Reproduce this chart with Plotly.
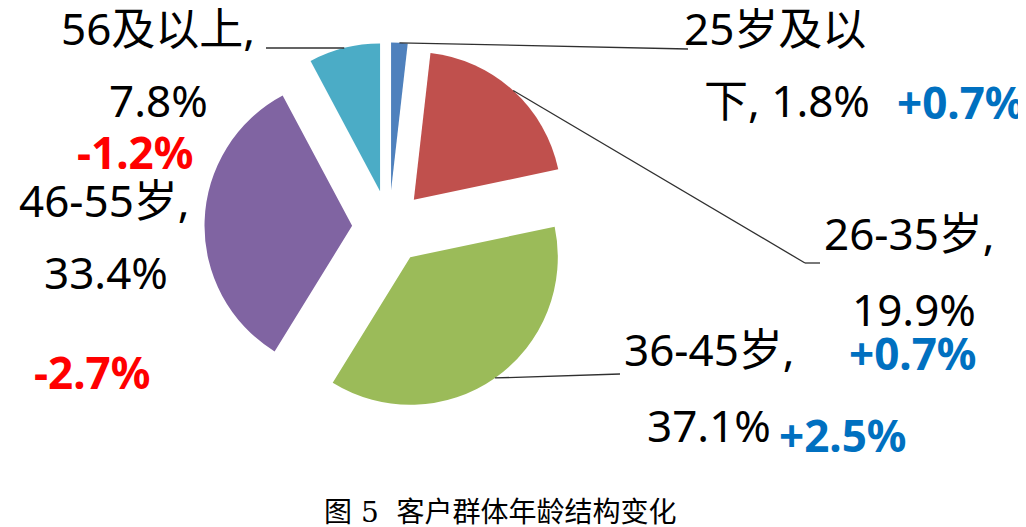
import math
import plotly.graph_objects as go

# data
groups = ["25岁及以下", "26-35岁", "36-45岁", "46-55岁", "56及以上"]
shares = [1.8, 19.9, 37.1, 33.4, 7.8]
changes = ["+0.7%", "+0.7%", "+2.5%", "-2.7%", "-1.2%"]
colors = ["#4F81BD", "#C0504D", "#9BBB59", "#8064A2", "#4BACC6"]

W, H = 1026, 527
pull = 0.25
# pie box in pixels (centre and side) -> domain
cx, cy, box = 381, 219, 369
R = box / (2 + 2 * pull)

fig = go.Figure(go.Pie(
    labels=groups, values=shares, sort=False, direction="clockwise", rotation=0,
    pull=[pull] * len(shares), marker=dict(colors=colors, line=dict(width=0)),
    textinfo="none", hoverinfo="label+percent", showlegend=False,
    domain=dict(x=[(cx - box / 2) / W, (cx + box / 2) / W],
                y=[1 - (cy + box / 2) / H, 1 - (cy - box / 2) / H]),
))

black = dict(family="Noto Sans, Noto Sans CJK SC", size=44, color="black")
def bold(c):
    return dict(family="Noto Sans, Noto Sans CJK SC", size=44, color=c)

def px(x, y):
    return x / W, 1 - y / H

# label text pieces and where they sit (pixels, left edge / vertical middle)
label_lines = [
    [("25岁及以", 674, 20), ("下, 1.8%", 694, 92)],
    [("26-35岁,", 814, 225), ("19.9%", 842, 301)],
    [("36-45岁,", 614, 341), ("37.1%", 637, 417)],
    [("46-55岁,", 9, 192), ("33.4%", 34, 264)],
    [("56及以上,", 51, 20), ("7.8%", 99, 92)],
]
change_pos = [(887, 94), (839, 345), (769, 427), (24, 364), (67, 144)]
line_ends = [[(680, 41)], [(797, 255), (812, 255)],
             [(612, 366)], None, [(258, 40)]]

annotations = []
for i, lines in enumerate(label_lines):
    for t, x, y in lines:
        ax, ay = px(x, y)
        annotations.append(dict(x=ax, y=ay, xref="paper", yref="paper", text=t,
                                showarrow=False, xanchor="left", yanchor="middle",
                                font=black))
    x, y = change_pos[i]
    ax, ay = px(x, y)
    c = "#0070C0" if changes[i].startswith("+") else "#FF0000"
    annotations.append(dict(x=ax, y=ay, xref="paper", yref="paper",
                            text="<b>%s</b>" % changes[i], showarrow=False,
                            xanchor="left", yanchor="middle", font=bold(c)))

annotations.append(dict(x=492 / W, y=1 - 504 / H, xref="paper", yref="paper",
                        text="图 5  客户群体年龄结构变化", showarrow=False,
                        xanchor="center", yanchor="middle",
                        font=dict(family="DejaVu Serif, Noto Sans CJK SC", size=28, color="black")))

# leader lines from the middle of each slice's arc
shapes = []
total = sum(shares)
cum = 0
for i, v in enumerate(shares):
    mid = math.radians((cum + v / 2) / total * 360)
    cum += v
    if line_ends[i] is None:
        continue
    sx = cx + (1 + pull) * R * math.sin(mid)
    sy = cy - (1 + pull) * R * math.cos(mid)
    pts = [(sx, sy)] + line_ends[i]
    for (x0, y0), (x1, y1) in zip(pts[:-1], pts[1:]):
        a0, b0 = px(x0, y0)
        a1, b1 = px(x1, y1)
        shapes.append(dict(type="line", xref="paper", yref="paper", x0=a0, y0=b0,
                           x1=a1, y1=b1, line=dict(color="#303030", width=1.3)))

fig.update_layout(width=W, height=H, margin=dict(l=0, r=0, t=0, b=0),
                  paper_bgcolor="white", plot_bgcolor="white",
                  annotations=annotations, shapes=shapes)
fig.write_html("out.html")
